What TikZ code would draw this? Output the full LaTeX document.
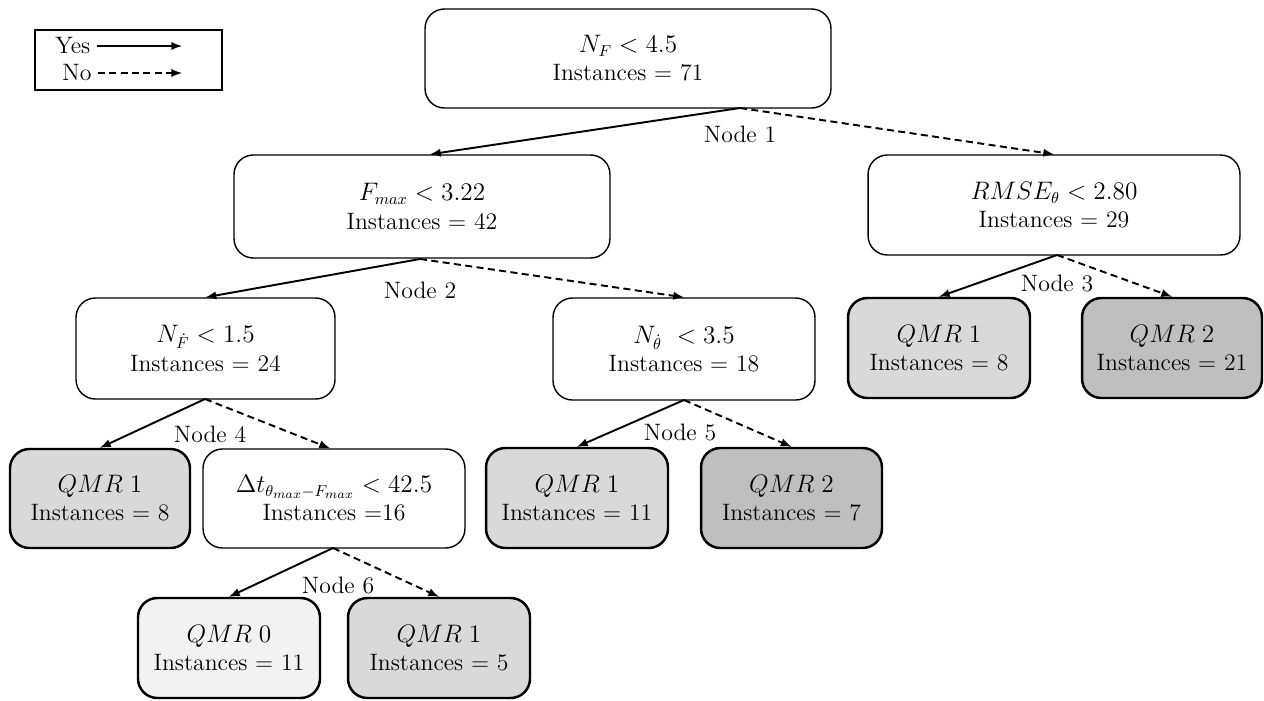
\documentclass[tikz,border=0pt]{standalone}
\usepackage{amsmath}
\usepackage{tikz}
\usetikzlibrary{arrows,positioning}
\tikzstyle{yesarrow} = [->,>=latex,line width=1.1pt]
\tikzstyle{noarrow} = [yesarrow,dashed,dash pattern=on 4pt off 2.5pt]
\tikzstyle{split} = [draw,line width=0.8pt,rounded corners=11pt,align=center,fill=white,font=\fontsize{13.5}{16}\selectfont]
\tikzstyle{leaf} = [split,line width=1.4pt]
\tikzstyle{lab} = [font=\fontsize{13.5}{16}\selectfont,inner sep=0pt]

\begin{document}
\begin{tikzpicture}[x=0.02cm,y=-0.02cm]
      \useasboundingbox(0,0)rectangle(1264,700);
      % legend
      \node[draw,line width=0.8pt,minimum width=3.74cm,minimum height=1.2cm](legend)at(128.5,60){};
      \node[lab,anchor=west](yes)at(55,46){Yes};
      \node[lab,anchor=west](no)at(62,73){No};
      \coordinate(ye)at(182,46);\coordinate(ne)at(182,73);
      \draw[yesarrow](yes.east)++(6,0)coordinate(ys)--(ye);
      \draw[noarrow](no.east)++(6,0)coordinate(ns)--(ne);
      % split nodes
      \node[split,minimum width=8.12cm,minimum height=1.98cm](root)at(628,58.5){$N_F < 4.5$\\Instances = 71};
      \node[split,minimum width=7.52cm,minimum height=2.06cm](fmax)at(422,206.5){$F_{max} < 3.22$\\Instances = 42};
      \node[split,minimum width=7.44cm,minimum height=2.0cm](rmse)at(1054,205){$RMSE_\theta < 2.80$\\Instances = 29};
      \node[split,minimum width=5.18cm,minimum height=2.02cm](nfdot)at(205.5,348.5){$N_{\dot F} < 1.5$\\Instances = 24};
      \node[split,minimum width=5.24cm,minimum height=2.04cm](nthdot)at(684,349){$N_{\dot\theta}\ < 3.5$\\Instances = 18};
      \node[split,minimum width=5.24cm,minimum height=1.98cm](dt)at(334,498.5){$\Delta t_{\theta_{max}-F_{max}} < 42.5$\\Instances =16};
      % leaves
      \node[leaf,fill=black!15,minimum width=3.64cm,minimum height=2.0cm](q1a)at(939,348){$QMR\;1$\\Instances = 8};
      \node[leaf,fill=black!25,minimum width=3.6cm,minimum height=2.0cm](q2a)at(1172,348){$QMR\;2$\\Instances = 21};
      \node[leaf,fill=black!15,minimum width=3.6cm,minimum height=1.98cm](q1b)at(100,498.5){$QMR\;1$\\Instances = 8};
      \node[leaf,fill=black!15,minimum width=3.64cm,minimum height=2.0cm](q1c)at(577,498){$QMR\;1$\\Instances = 11};
      \node[leaf,fill=black!25,minimum width=3.62cm,minimum height=2.0cm](q2b)at(791.5,498){$QMR\;2$\\Instances = 7};
      \node[leaf,fill=black!5,minimum width=3.64cm,minimum height=2.0cm](q0)at(229,648){$QMR\;0$\\Instances = 11};
      \node[leaf,fill=black!15,minimum width=3.64cm,minimum height=2.0cm](q1d)at(439,648){$QMR\;1$\\Instances = 5};
      % branch points
      \coordinate(b1)at(740,108);\coordinate(b2)at(420,259);\coordinate(b3)at(1057,255);
      \coordinate(b4)at(205,399);\coordinate(b5)at(684,400);\coordinate(b6)at(333,548);
      \draw[yesarrow](b1)--(fmax.north-|430,0);\draw[noarrow](b1)--(rmse.north);
      \draw[yesarrow](b2)--(nfdot.north);\draw[noarrow](b2)--(nthdot.north);
      \draw[yesarrow](b3)--(q1a.north);\draw[noarrow](b3)--(q2a.north);
      \draw[yesarrow](b4)--(q1b.north);\draw[noarrow](b4)--(dt.north-|330,0);
      \draw[yesarrow](b5)--(q1c.north);\draw[noarrow](b5)--(q2b.north);
      \draw[yesarrow](b6)--(q0.north);\draw[noarrow](b6)--(q1d.north);
      % node labels
      \node[lab](l1)at(740,134){Node 1};
      \node[lab](l2)at(420,290){Node 2};
      \node[lab](l3)at(1057,284){Node 3};
      \node[lab](l4)at(210,434){Node 4};
      \node[lab](l5)at(680,433){Node 5};
      \node[lab](l6)at(338,586){Node 6};
    \end{tikzpicture}
\end{document}
